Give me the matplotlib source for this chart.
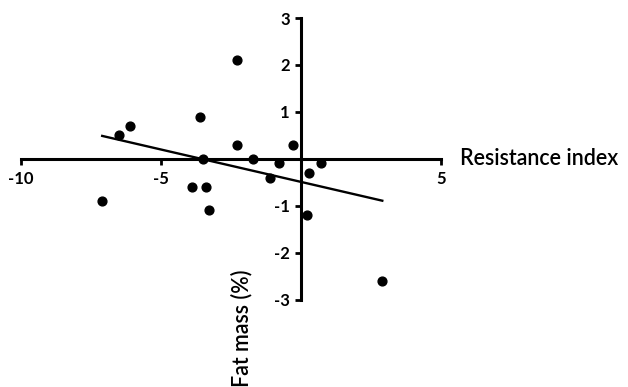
import numpy as np
import matplotlib.pyplot as plt

# punktene lest av figuren
res_index = [-7.1, -6.5, -6.1, -3.9, -3.6, -3.5, -3.4, -3.3, -2.3, -2.3,
             -1.7, -1.1, -0.8, -0.3, 0.2, 0.3, 0.7, 2.9]
fat_mass = [-0.9, 0.5, 0.7, -0.6, 0.9, 0.0, -0.6, -1.1, 2.1, 0.3,
            0.0, -0.4, -0.1, 0.3, -1.2, -0.3, -0.1, -2.6]
x_ticks = [-10, -5, 5]
y_ticks = [-3, -2, -1, 1, 2, 3]

plt.rcParams['font.family'] = ['Lato', 'DejaVu Sans']

fig = plt.figure(figsize=(6.28, 3.87), dpi=100)
ax = fig.add_axes([0.0334, 0.226, 0.669, 0.7274])

ax.scatter(res_index, fat_mass, s=40, color='black', zorder=3)

# regresjonslinje
k, m = np.polyfit(res_index, fat_mass, 1)
xl = np.array([min(res_index), max(res_index)])
ax.plot(xl, k * xl + m, color='black', lw=1.7)

ax.set_xlim(-10, 5)
ax.set_ylim(-3, 3)
ax.spines['left'].set_position(('data', 0))
ax.spines['bottom'].set_position(('data', 0))
ax.spines['right'].set_visible(False)
ax.spines['top'].set_visible(False)
for s in ['left', 'bottom']:
    ax.spines[s].set_linewidth(2.2)

ax.set_xticks(x_ticks)
ax.set_yticks(y_ticks)
ax.set_xticklabels([str(v) for v in x_ticks])
ax.set_yticklabels([str(v) for v in y_ticks])
ax.tick_params(axis='both', direction='out', length=4, width=2,
               labelsize=12)
for lab in ax.get_xticklabels() + ax.get_yticklabels():
    lab.set_fontweight('bold')
ax.tick_params(axis='x', pad=5)
ax.tick_params(axis='y', pad=4)

fig.text(0.733, 0.59, "Resistance index", fontsize=15.5, va='center',
         ha='left', fontweight='semibold')
fig.text(0.385, 0.152, "Fat mass (%)", fontsize=15.5, rotation=90,
         va='center', ha='center', fontweight='semibold')

plt.savefig("out.png", dpi=100)
